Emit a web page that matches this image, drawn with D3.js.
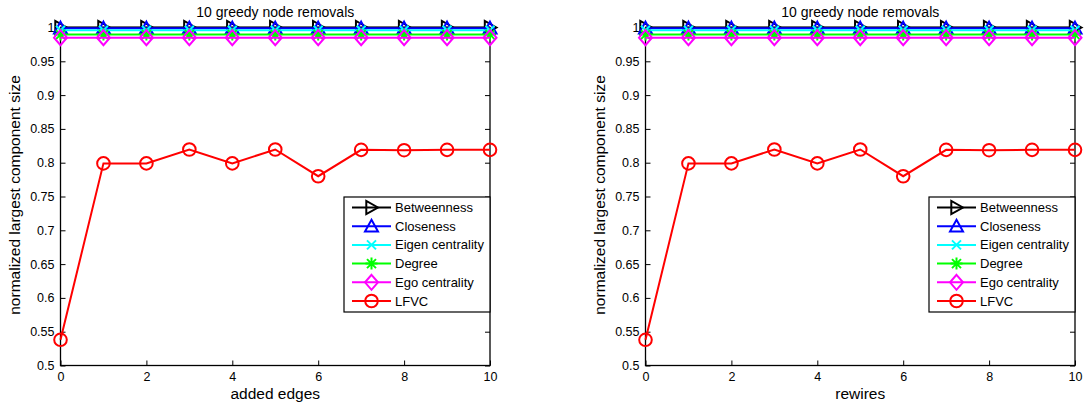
<!DOCTYPE html>
<html><head><meta charset="utf-8">
<script src="https://cdn.jsdelivr.net/npm/d3@7"></script>
<style>body{margin:0;background:#fff}svg{display:block}text{font-family:"Liberation Sans",Arial,sans-serif;fill:#000}</style>
</head><body>
<svg id="c" width="1086" height="406"></svg>
<script>
const xValues = [0,1,2,3,4,5,6,7,8,9,10];
const seriesNames = ["Betweenness","Closeness","Eigen centrality","Degree","Ego centrality","LFVC"];
const betweenness = [1,1,1,1,1,1,1,1,1,1,1];
const closeness = [0.999,0.999,0.999,0.999,0.999,0.999,0.999,0.999,0.999,0.999,0.999];
const eigen = [0.996,0.996,0.996,0.996,0.996,0.996,0.996,0.996,0.996,0.996,0.996];
const degree = [0.9895,0.9895,0.9895,0.9895,0.9895,0.9895,0.9895,0.9895,0.9895,0.9895,0.9895];
const ego = [0.985,0.985,0.985,0.985,0.985,0.985,0.985,0.985,0.985,0.985,0.985];
const lfvcAdded = [0.538,0.799,0.799,0.8195,0.799,0.8195,0.780,0.819,0.8185,0.819,0.819];
const lfvcRewires = [0.538,0.799,0.799,0.8195,0.799,0.8195,0.780,0.819,0.8185,0.819,0.819];
const xTicks = [0,2,4,6,8,10];
const yTicks = [0.5,0.55,0.6,0.65,0.7,0.75,0.8,0.85,0.9,0.95,1];
const titleText = "10 greedy node removals";
const yLabelText = "normalized largest component size";
const xLabels = ["added edges","rewires"];

const colors = ["#000000","#0000ff","#00ffff","#00ff00","#ff00ff","#ff0000"];
const markers = ["tri-right","tri-up","x","star","diamond","circle"];

const svg = d3.select("#c");

function drawMarker(g, type, color, cx, cy) {
  const s = 6.5;
  const common = el => el.attr("fill","none").attr("stroke",color).attr("stroke-width",2);
  if (type === "circle") {
    common(g.append("circle").attr("cx",cx).attr("cy",cy).attr("r",6.3));
  } else if (type === "diamond") {
    common(g.append("path").attr("d",`M${cx},${cy-s-1}L${cx+s},${cy}L${cx},${cy+s+1}L${cx-s},${cy}Z`));
  } else if (type === "tri-up") {
    common(g.append("path").attr("d",`M${cx},${cy-s}L${cx+s},${cy+s*0.8}L${cx-s},${cy+s*0.8}Z`));
  } else if (type === "tri-right") {
    common(g.append("path").attr("d",`M${cx+s},${cy}L${cx-s*0.8},${cy-s}L${cx-s*0.8},${cy+s}Z`));
  } else if (type === "x") {
    const a = 4.5;
    common(g.append("path").attr("d",`M${cx-a},${cy-a}L${cx+a},${cy+a}M${cx-a},${cy+a}L${cx+a},${cy-a}`));
  } else if (type === "star") {
    const a = 4.5, b = 6;
    common(g.append("path").attr("d",`M${cx},${cy-b}L${cx},${cy+b}M${cx-b},${cy}L${cx+b},${cy}M${cx-a},${cy-a}L${cx+a},${cy+a}M${cx-a},${cy+a}L${cx+a},${cy-a}`));
  }
}

function panel(x0, x1, lfvc, xLabel) {
  const x = d3.scaleLinear().domain([0,10]).range([x0,x1]);
  const y = d3.scaleLinear().domain([0.5,1]).range([365.5,27.5]);
  const g = svg.append("g");

  // axes box
  g.append("rect").attr("x",x0).attr("y",y(1)).attr("width",x1-x0).attr("height",y(0.5)-y(1))
    .attr("fill","none").attr("stroke","#000").attr("stroke-width",1.3);

  // bottom axis (ticks inside)
  const xa = g.append("g").attr("transform",`translate(0,${y(0.5)})`)
    .call(d3.axisBottom(x).tickValues(xTicks).tickSize(-5).tickPadding(7).tickFormat(d3.format("d")));
  const ya = g.append("g").attr("transform",`translate(${x0},0)`)
    .call(d3.axisLeft(y).tickValues(yTicks).tickSize(-5).tickPadding(6).tickFormat(d => d === 1 ? "1" : d3.format(".2~f")(d)));
  // mirrored ticks
  g.append("g").attr("transform",`translate(${x1},0)`)
    .call(d3.axisRight(y).tickValues(yTicks).tickSize(-5).tickFormat(""));
  g.append("g").attr("transform",`translate(0,${y(1)})`)
    .call(d3.axisTop(x).tickValues(xTicks).tickSize(-5).tickFormat(""));
  g.selectAll(".domain").remove();
  g.selectAll(".tick line").attr("stroke","#000").attr("stroke-width",1);
  [xa, ya].forEach(a => a.selectAll("text").attr("font-size","12.5px").attr("font-family","Liberation Sans, Arial, sans-serif").attr("fill","#000"));

  // series
  const allSeries = [betweenness, closeness, eigen, degree, ego, lfvc];
  const line = d3.line().x((d,i) => x(xValues[i])).y(d => y(d));
  allSeries.forEach((vals, si) => {
    const sg = g.append("g");
    sg.append("path").attr("d", line(vals)).attr("fill","none").attr("stroke",colors[si]).attr("stroke-width",2);
    vals.forEach((v,i) => drawMarker(sg, markers[si], colors[si], x(xValues[i]), y(v)));
  });

  // title and labels
  const cx = (x0+x1)/2;
  g.append("text").attr("x",cx).attr("y",17).attr("text-anchor","middle").attr("font-size","14px").text(titleText);
  g.append("text").attr("x",cx).attr("y",399).attr("text-anchor","middle").attr("font-size","15.5px").text(xLabel);
  g.append("text").attr("transform",`translate(${x0-41},195) rotate(-90)`).attr("text-anchor","middle").attr("font-size","15.5px").text(yLabelText);

  // legend
  const lx = x1 - 146, ly = 197, lw = 146, lh = 115;
  const lg = g.append("g");
  lg.append("rect").attr("x",lx).attr("y",ly).attr("width",lw).attr("height",lh)
    .attr("fill","#fff").attr("stroke","#000").attr("stroke-width",1.2);
  seriesNames.forEach((name, i) => {
    const ry = ly + 10.5 + i*18.7;
    lg.append("line").attr("x1",lx+8).attr("x2",lx+47).attr("y1",ry).attr("y2",ry)
      .attr("stroke",colors[i]).attr("stroke-width",2);
    drawMarker(lg, markers[i], colors[i], lx+27.5, ry);
    lg.append("text").attr("x",lx+51).attr("y",ry+4.5).attr("font-size","13px").text(name);
  });
}

panel(60.5, 490, lfvcAdded, xLabels[0]);
panel(645.5, 1075, lfvcRewires, xLabels[1]);
</script>
</body></html>
